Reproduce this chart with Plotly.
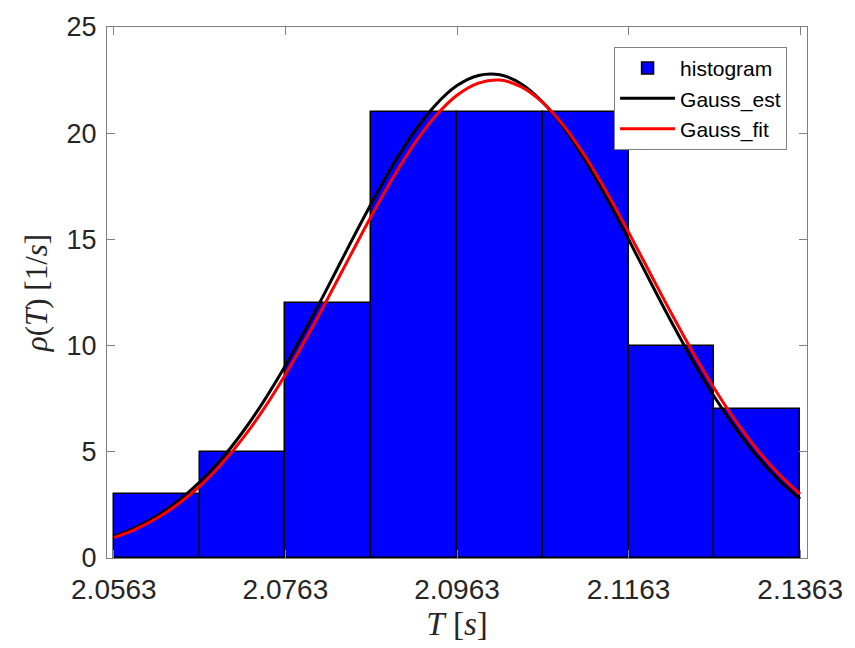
import plotly.graph_objects as go

# Histogram (density, bin width 0.01)
bin_left = [2.0563, 2.0663, 2.0763, 2.0863, 2.0963, 2.1063, 2.1163, 2.1263]
bin_width = 0.01
hist_vals = [3, 5, 12, 21, 21, 21, 10, 7]

curve_x = [2.0563, 2.0588, 2.0613, 2.0638, 2.0663, 2.0688, 2.0713, 2.0738, 2.0763,
           2.0788, 2.0813, 2.0838, 2.0863, 2.0888, 2.0913, 2.0938, 2.0963, 2.0988,
           2.1013, 2.1038, 2.1063, 2.1088, 2.1113, 2.1138, 2.1163, 2.1188, 2.1213,
           2.1238, 2.1263, 2.1288, 2.1313, 2.1338, 2.1363]
gauss_est = [1.02, 1.43, 1.98, 2.69, 3.57, 4.64, 5.92, 7.40, 9.06,
             10.88, 12.80, 14.77, 16.68, 18.48, 20.06, 21.33, 22.24, 22.72,
             22.75, 22.32, 21.46, 20.23, 18.68, 16.91, 15.00, 13.04, 11.11,
             9.28, 7.59, 6.09, 4.78, 3.68, 2.78]
gauss_fit = [0.96, 1.35, 1.87, 2.54, 3.37, 4.40, 5.62, 7.03, 8.64,
             10.40, 12.27, 14.19, 16.09, 17.88, 19.49, 20.81, 21.79, 22.36,
             22.50, 22.18, 21.44, 20.32, 18.88, 17.19, 15.34, 13.42, 11.51,
             9.68, 7.98, 6.44, 5.10, 3.96, 3.01]

x_tickvals = [2.0563, 2.0763, 2.0963, 2.1163, 2.1363]
x_ticktext = ["2.0563", "2.0763", "2.0963", "2.1163", "2.1363"]
y_tickvals = [0, 5, 10, 15, 20, 25]

fig = go.Figure()
fig.add_trace(go.Bar(
    x=[b + bin_width / 2 for b in bin_left], y=hist_vals, width=bin_width,
    name="histogram", marker=dict(color="#0000FF", line=dict(color="black", width=1.5)),
))
fig.add_trace(go.Scatter(x=curve_x, y=gauss_est, mode="lines", name="Gauss_est",
                         line=dict(color="black", width=3, shape="spline", smoothing=1)))
fig.add_trace(go.Scatter(x=curve_x, y=gauss_fit, mode="lines", name="Gauss_fit",
                         line=dict(color="#FF0000", width=3, shape="spline", smoothing=1)))

axis_common = dict(
    showline=True, linecolor="#808080", linewidth=1, mirror="ticks",
    ticks="inside", ticklen=8, tickcolor="#808080", showgrid=False, zeroline=False,
)

fig.update_layout(
    width=855, height=648,
    margin=dict(l=107, r=44, t=26, b=88),
    plot_bgcolor="white", paper_bgcolor="white",
    bargap=0,
    showlegend=True,
    legend=dict(x=0.7244, y=0.9625, xanchor="left", yanchor="top",
                bgcolor="white", bordercolor="#808080", borderwidth=1,
                font=dict(family="Liberation Sans, Arial", size=21, color="black"),
                tracegroupgap=0, itemwidth=55),
    xaxis=dict(range=[2.0555, 2.1371], tickvals=x_tickvals, ticktext=x_ticktext,
               ticklabelstandoff=6,
               tickfont=dict(family="Liberation Sans, Arial", size=28, color="#262626"),
               title=dict(text="<i>T</i> [<i>s</i>]", standoff=8,
                          font=dict(family="Liberation Serif, Times New Roman", size=33, color="#262626")),
               **axis_common),
    yaxis=dict(range=[0, 25], tickvals=y_tickvals, ticklabelstandoff=4,
               tickfont=dict(family="Liberation Sans, Arial", size=27, color="#262626"),
               title=dict(text="<i>ρ</i>(<i>T</i>) [1/<i>s</i>]", standoff=9,
                          font=dict(family="Liberation Serif, Times New Roman", size=31, color="#262626")),
               **axis_common),
)

fig.write_html("out.html")
